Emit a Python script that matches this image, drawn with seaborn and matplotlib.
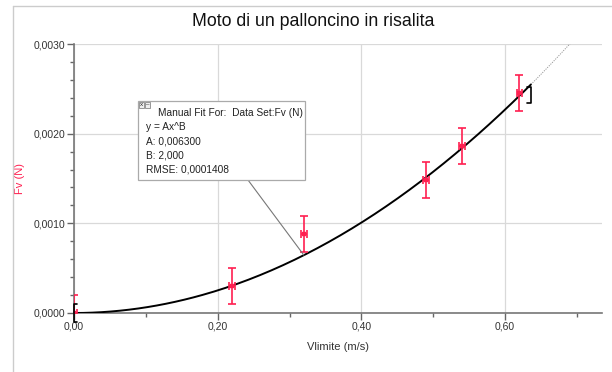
import numpy as np
import pandas as pd
import seaborn as sns
import matplotlib
matplotlib.use("Agg")
import matplotlib.pyplot as plt
from matplotlib.lines import Line2D
from matplotlib.ticker import FixedLocator, FuncFormatter, MultipleLocator

# ---- data ----
vlimite = [0.00, 0.22, 0.32, 0.49, 0.54, 0.62]
fv = [0.0000, 0.00030, 0.00088, 0.00148, 0.00186, 0.00245]
fv_err = [0.0002, 0.0002, 0.0002, 0.0002, 0.0002, 0.0002]
v_err = [0.004, 0.004, 0.004, 0.004, 0.004, 0.004]
fit_A = 0.006300
fit_B = 2.000
fit_rmse = 0.0001408
fit_start, fit_end, fit_ext = 0.0, 0.636, 0.70
x_ticks = [0.0, 0.2, 0.4, 0.6]
y_ticks = [0.0, 0.001, 0.002, 0.003]

title = "Moto di un palloncino in risalita"
xlabel = "Vlimite (m/s)"
ylabel = "Fv (N)"

sns.set_style("white")
plt.rcParams['font.family'] = ['Liberation Sans', 'DejaVu Sans']

red = "#ff1f50"
fig = plt.figure(figsize=(6.12, 3.72), dpi=100)
ax = fig.add_axes([74/612, 1-313/372, (602-74)/612, (313-44)/372])

# fit curve
xs = np.linspace(fit_start, fit_end, 200)
fit_df = pd.DataFrame({"x": xs, "y": fit_A * xs ** fit_B})
sns.lineplot(data=fit_df, x="x", y="y", color="black", lw=1.4, ax=ax, zorder=4)
xe = np.linspace(fit_end, fit_ext, 40)
ax.plot(xe, fit_A * xe ** fit_B, color="#999999", lw=0.7, ls=(0, (1.2, 1.2)), zorder=3)

# data with error bars
ax.errorbar(vlimite, fv, yerr=fv_err, xerr=v_err, fmt='none', ecolor=red,
            elinewidth=1.2, capsize=3, capthick=1.2, zorder=5, clip_on=True)
pts = pd.DataFrame({"v": vlimite, "f": fv})
sns.scatterplot(data=pts, x="v", y="f", marker='s', s=12, color=red,
                edgecolor=red, ax=ax, zorder=6, clip_on=True)

# fit range brackets
ax.plot([fit_start + 0.004, fit_start, fit_start, fit_start + 0.004],
        [0.0001, 0.0001, -0.0001, -0.0001], color="black", lw=1.2, clip_on=False, zorder=7)
ax.plot([fit_end - 0.006, fit_end, fit_end, fit_end - 0.006],
        [0.00252, 0.00252, 0.00234, 0.00234],
        color="black", lw=1.2, zorder=7)

ax.set_xlim(0, 0.735)
ax.set_ylim(0, 0.0030)
ax.xaxis.set_major_locator(FixedLocator(x_ticks))
ax.yaxis.set_major_locator(FixedLocator(y_ticks))
ax.xaxis.set_minor_locator(MultipleLocator(0.1))
ax.yaxis.set_minor_locator(MultipleLocator(0.0002))
ax.xaxis.set_major_formatter(FuncFormatter(lambda v, p: f"{v:.2f}".replace('.', ',')))
ax.yaxis.set_major_formatter(FuncFormatter(lambda v, p: f"{v:.4f}".replace('.', ',')))
ax.tick_params(axis='both', which='major', direction='out', length=5, width=1,
               color="#666666", labelsize=7.5, labelcolor="#333333", pad=1)
ax.tick_params(axis='both', which='minor', direction='out', length=3, width=1, color="#666666")
ax.tick_params(axis='x', which='both', bottom=True)
ax.tick_params(axis='y', which='both', left=True)
ax.grid(True, which='major', color="#d9d9d9", lw=0.9)
ax.set_axisbelow(True)
for s in ['top', 'right']:
    ax.spines[s].set_visible(False)
for s in ['left', 'bottom']:
    ax.spines[s].set_color("#777777")
    ax.spines[s].set_linewidth(1.2)

ax.set_xlabel(xlabel, fontsize=8, color="#333333", labelpad=8)
ax.set_ylabel(ylabel, fontsize=8, color=red, labelpad=0)
ax.yaxis.set_label_coords(-(74-25)/528, 0.5)
fig.text(313/612, 1-22/372, title, ha='center', va='center', fontsize=12.8, color="#111111")

# annotation box
bx0, by0, bx1, by1 = 138, 101, 305, 180
box = plt.Rectangle((bx0/612, 1-by1/372), (bx1-bx0)/612, (by1-by0)/372,
                    transform=fig.transFigure, facecolor='white', edgecolor='#aaaaaa',
                    lw=0.9, zorder=10)
fig.add_artist(box)
lines = [("Manual Fit For:  Data Set:Fv (N)", 158, 113),
         ("y = Ax^B", 146, 127),
         (f"A: {fit_A:.6f}".replace('.', ','), 146, 141),
         (f"B: {fit_B:.3f}".replace('.', ','), 146, 155),
         (f"RMSE: {fit_rmse:.7f}".replace('.', ','), 146, 169)]
for t, x, y in lines:
    fig.text(x/612, 1-y/372, t, fontsize=7.3, color="#222222", va='center', ha='left', zorder=11)
# small icons
for i, ch in enumerate(["x", "–"]):
    r = plt.Rectangle(((139+i*6)/612, 1-108/372), 5/612, 6/372, transform=fig.transFigure,
                      facecolor='#eeeeee', edgecolor='#888888', lw=0.6, zorder=11)
    fig.add_artist(r)
    fig.text((141.5+i*6)/612, 1-105/372, ch, fontsize=4.5, ha='center', va='center', zorder=12)
# connector line from box to curve point
xc = 0.32
yc = fit_A * xc ** fit_B
p_disp = ax.transData.transform((xc, yc))
p_fig = fig.transFigure.inverted().transform(p_disp)
fig.add_artist(Line2D([248/612, p_fig[0]], [1-by1/372, p_fig[1]], transform=fig.transFigure,
                      color="#777777", lw=0.8, zorder=9))

# outer panel border lines
fig.add_artist(Line2D([13/612, 1], [1-6/372, 1-6/372], transform=fig.transFigure, color="#cccccc", lw=1))
fig.add_artist(Line2D([13/612, 13/612], [0, 1-6/372], transform=fig.transFigure, color="#cccccc", lw=1))

fig.savefig("out.png", dpi=100)
